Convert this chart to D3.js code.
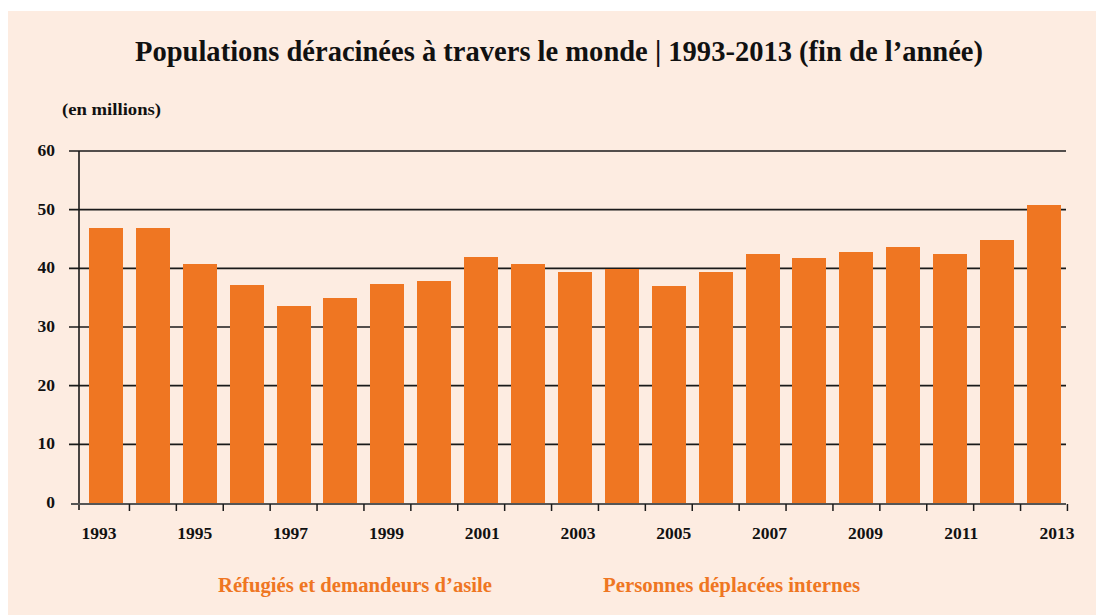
<!DOCTYPE html>
<html>
<head>
<meta charset="utf-8">
<script src="https://cdn.jsdelivr.net/npm/d3@7"></script>
<style>
html,body{margin:0;padding:0;background:#ffffff;}
svg{display:block;}
text{font-family:"Liberation Serif","DejaVu Serif",serif;font-weight:bold;}
</style>
</head>
<body>
<svg id="chart" width="1096" height="615"></svg>
<script>
const years = ["1993","1994","1995","1996","1997","1998","1999","2000","2001","2002","2003","2004","2005","2006","2007","2008","2009","2010","2011","2012","2013"];
const idps = [28.0,27.0,23.0,22.0,19.0,21.0,22.0,22.0,25.0,25.0,25.0,25.0,23.7,24.4,26.0,26.0,27.1,27.5,26.4,28.8,33.3];
const refugees = [18.9,19.9,17.7,15.2,14.6,13.9,15.3,15.8,16.9,15.7,14.4,14.9,13.3,15.0,16.4,15.8,15.7,16.1,16.0,16.0,17.5];
const yTicks = [0,10,20,30,40,50,60];
const xLabelYears = ["1993","1995","1997","1999","2001","2003","2005","2007","2009","2011","2013"];
const seriesNames = ["Réfugiés et demandeurs d’asile","Personnes déplacées internes"];
const title = "Populations déracinées à travers le monde | 1993-2013 (fin de l’année)";
const unitLabel = "(en millions)";

const orange = "#ef7622";
const svg = d3.select("#chart");
svg.append("rect").attr("x",8).attr("y",11).attr("width",1088).attr("height",604).attr("fill","#fdece1");

const x = d3.scaleBand().domain(years).range([82.55,1067.45]).paddingInner(0.275).paddingOuter(0.1375);
const y = d3.scaleLinear().domain([0,60]).range([503,151]);
const xLab = d3.scalePoint().domain(xLabelYears).range([99,1057]);

// gridlines
svg.append("g").selectAll("line").data(yTicks.filter(d=>d>0)).join("line")
  .attr("x1",69).attr("x2",1066).attr("y1",d=>y(d)).attr("y2",d=>y(d))
  .attr("stroke","#1a1a1a").attr("stroke-width",1.6);

// stacked bars (same colour for both series, as in the original)
const data = years.map((yr,i)=>({year:yr, idp:idps[i], ref:refugees[i]}));
const stack = d3.stack().keys(["idp","ref"])(data);
svg.append("g").attr("shape-rendering","crispEdges").selectAll("g").data(stack).join("g").attr("fill",orange)
  .selectAll("rect").data(d=>d).join("rect")
  .attr("x",d=>Math.round(x(d.data.year))).attr("width",Math.round(x.bandwidth()))
  .attr("y",d=>Math.round(y(d[1]))).attr("height",d=>Math.round(y(d[0]))-Math.round(y(d[1])));

// y axis line
svg.append("line").attr("x1",79).attr("x2",79).attr("y1",151).attr("y2",510)
  .attr("stroke","#1a1a1a").attr("stroke-width",1.6);
// x axis line
svg.append("line").attr("x1",71).attr("x2",1066).attr("y1",504).attr("y2",504)
  .attr("stroke","#555").attr("stroke-width",2);
// x ticks between bars
const step = x.step();
const tickPos = d3.range(years.length+1).map(k=>x(years[0]) - x.paddingInner()*step/2 + k*step);
svg.append("g").selectAll("line").data(tickPos.slice(1)).join("line")
  .attr("x1",d=>d).attr("x2",d=>d).attr("y1",504).attr("y2",511)
  .attr("stroke","#1a1a1a").attr("stroke-width",1.5);

// y tick labels
svg.append("g").selectAll("text").data(yTicks).join("text")
  .attr("x",55).attr("y",d=>y(d)+5).attr("text-anchor","end")
  .attr("font-size",17.5).attr("fill","#111").text(d=>d);

// x labels
svg.append("g").selectAll("text").data(xLabelYears).join("text")
  .attr("x",d=>xLab(d)).attr("y",539).attr("text-anchor","middle")
  .attr("font-size",17.5).attr("fill","#111").text(d=>d);

// title
svg.append("text").attr("x",135).attr("y",61)
  .attr("font-size",28.5).attr("fill","#111")
  .attr("textLength",848).attr("lengthAdjust","spacingAndGlyphs").text(title);
svg.append("text").attr("x",62).attr("y",115).attr("font-size",17.5).attr("fill","#111")
  .attr("textLength",99).attr("lengthAdjust","spacingAndGlyphs").text(unitLabel);

// legend
svg.append("text").attr("x",218).attr("y",592).attr("font-size",20.5).attr("fill",orange)
  .attr("textLength",274).attr("lengthAdjust","spacingAndGlyphs").text(seriesNames[0]);
svg.append("text").attr("x",603).attr("y",592).attr("font-size",20.5).attr("fill",orange)
  .attr("textLength",257).attr("lengthAdjust","spacingAndGlyphs").text(seriesNames[1]);
</script>
</body>
</html>
